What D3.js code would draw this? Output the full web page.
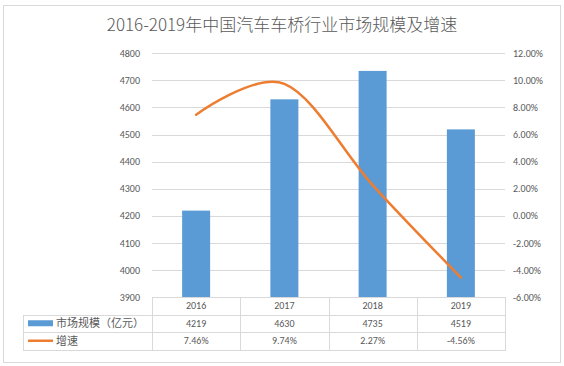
<!DOCTYPE html>
<html>
<head>
<meta charset="utf-8">
<script src="https://cdn.jsdelivr.net/npm/d3@7"></script>
<style>
    body { margin: 0; background: #fff; }
    svg text { font-family: "Noto Sans CJK SC", "Microsoft YaHei", sans-serif; fill: #595959; }
</style>
</head>
<body>
<div id="chart"></div>
<script>
    // chart data
    const years = ["2016", "2017", "2018", "2019"];
    const marketSize = [4219, 4630, 4735, 4519];
    const growth = [7.46, 9.74, 2.27, -4.56];
    const leftTicks = [3900, 4000, 4100, 4200, 4300, 4400, 4500, 4600, 4700, 4800];
    const rightTicks = [-6, -4, -2, 0, 2, 4, 6, 8, 10, 12];
    const seriesNames = ["市场规模（亿元）", "增速"];
    const title = "2016-2019年中国汽车车桥行业市场规模及增速";

    let width = 564, height = 366;
    let plot = { left: 152, right: 505, top: 53.3, bottom: 297 };
    let rowH = 17.5;
    let tableLeft = 23;

    let svg = d3.select("#chart").append("svg").attr("width", width).attr("height", height);

    // outer frame
    svg.append("rect")
        .attr("x", 3.5).attr("y", 5.5).attr("width", 557).attr("height", 357)
        .attr("fill", "#fff").attr("stroke", "#d9d9d9");

    svg.append("text")
        .attr("x", 282).attr("y", 31)
        .attr("text-anchor", "middle")
        .style("font-size", "17px")
        .style("font-weight", "300")
        .text(title);

    let x = d3.scaleBand().domain(years).range([plot.left, plot.right]);
    let yLeft = d3.scaleLinear().domain([3900, 4800]).range([plot.bottom, plot.top]);
    let yRight = d3.scaleLinear().domain([-6, 12]).range([plot.bottom, plot.top]);

    // gridlines
    svg.append("g")
        .selectAll("line")
        .data(leftTicks.slice(1))
        .enter()
        .append("line")
        .attr("x1", plot.left).attr("x2", plot.right)
        .attr("y1", (d) => Math.round(yLeft(d)) + 0.5)
        .attr("y2", (d) => Math.round(yLeft(d)) + 0.5)
        .attr("stroke", "#d9d9d9");

    let numFont = "Calibri, Carlito, 'Liberation Sans', sans-serif";

    // left axis labels
    let leftAxis = d3.axisLeft(yLeft).tickValues(leftTicks).tickSize(0).tickPadding(12).tickFormat(d3.format("d"));
    let gl = svg.append("g").attr("transform", `translate(${plot.left},0)`).call(leftAxis);
    gl.select(".domain").remove();
    gl.selectAll("text").style("font-size", "10px").style("font-family", numFont).attr("fill", "#595959");

    let rightAxis = d3.axisRight(yRight).tickValues(rightTicks).tickSize(0).tickPadding(8)
        .tickFormat((d) => d.toFixed(2) + "%");
    let gr = svg.append("g").attr("transform", `translate(${plot.right},0)`).call(rightAxis);
    gr.select(".domain").remove();
    gr.selectAll("text").style("font-size", "10px").style("font-family", numFont).attr("fill", "#595959");

    // bars
    let barW = 28;
    svg.append("g")
        .selectAll("rect")
        .data(marketSize)
        .enter()
        .append("rect")
        .attr("x", (d, i) => x(years[i]) + x.bandwidth() / 2 - barW / 2)
        .attr("y", (d) => yLeft(d))
        .attr("width", barW)
        .attr("height", (d) => plot.bottom - yLeft(d))
        .attr("fill", "#5b9bd5");

    // growth line
    let line = d3.line()
        .x((d, i) => x(years[i]) + x.bandwidth() / 2)
        .y((d) => yRight(d))
        .curve(d3.curveCardinal.tension(0));
    svg.append("path")
        .datum(growth)
        .attr("d", line)
        .attr("fill", "none")
        .attr("stroke", "#ed7d31")
        .attr("stroke-width", 2.5)
        .attr("stroke-linecap", "round");

    // data table
    let table = svg.append("g").attr("stroke", "#d9d9d9").attr("fill", "none");
    let rows = [plot.bottom, plot.bottom + rowH, plot.bottom + rowH * 2, plot.bottom + rowH * 3];
    table.append("line").attr("x1", plot.left).attr("x2", plot.right).attr("y1", rows[0] + 0.5).attr("y2", rows[0] + 0.5);
    [1, 2, 3].forEach((r) => {
        table.append("line").attr("x1", tableLeft).attr("x2", plot.right)
            .attr("y1", Math.round(rows[r]) + 0.5).attr("y2", Math.round(rows[r]) + 0.5);
    });
    table.append("line").attr("x1", tableLeft + 0.5).attr("x2", tableLeft + 0.5)
        .attr("y1", Math.round(rows[1])).attr("y2", Math.round(rows[3]) + 1);
    x.domain().concat(["end"]).forEach((yr, i) => {
        let xx = Math.round(plot.left + i * x.bandwidth()) + 0.5;
        table.append("line").attr("x1", xx).attr("x2", xx).attr("y1", rows[0]).attr("y2", Math.round(rows[3]) + 1);
    });

    let addRow = (vals, r) => {
        svg.append("g")
            .selectAll("text")
            .data(vals)
            .enter()
            .append("text")
            .attr("x", (d, i) => x(years[i]) + x.bandwidth() / 2)
            .attr("y", rows[r] + rowH / 2 + 3.5)
            .attr("text-anchor", "middle")
            .style("font-size", "10px")
            .style("font-family", numFont)
            .text((d) => d);
    };
    addRow(years, 0);
    addRow(marketSize, 1);
    addRow(growth.map((d) => d.toFixed(2) + "%"), 2);

    // legend keys in the table
    svg.append("rect")
        .attr("x", 28).attr("y", rows[1] + rowH / 2 - 3)
        .attr("width", 25).attr("height", 6).attr("fill", "#5b9bd5");
    svg.append("line")
        .attr("x1", 28).attr("x2", 53)
        .attr("y1", rows[2] + rowH / 2).attr("y2", rows[2] + rowH / 2)
        .attr("stroke", "#ed7d31").attr("stroke-width", 2.5);
    seriesNames.forEach((name, i) => {
        svg.append("text")
            .attr("x", 56).attr("y", rows[i + 1] + rowH / 2 + 4)
            .style("font-size", "11px")
            .text(name);
    });
</script>
</body>
</html>
